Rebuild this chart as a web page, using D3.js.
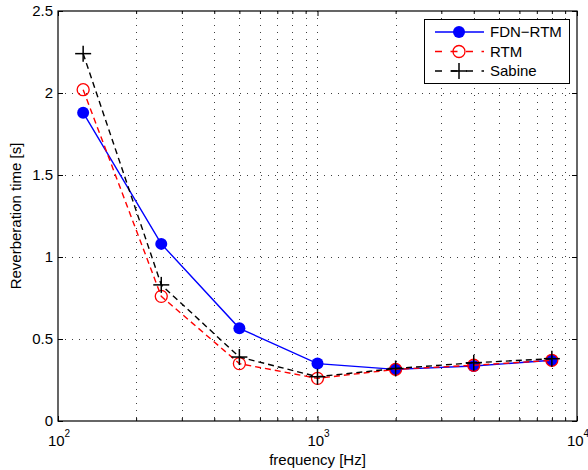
<!DOCTYPE html>
<html><head><meta charset="utf-8">
<script src="https://cdn.jsdelivr.net/npm/d3@7"></script>
<style>
body{margin:0;background:#fff;}
svg{display:block;font-family:"Liberation Sans",Arial,Helvetica,sans-serif;}
</style></head>
<body><svg id="c" width="588" height="470"></svg>
<script>
const freqs = [125, 250, 500, 1000, 2000, 4000, 8000];
const fdnRtm = [1.88, 1.08, 0.565, 0.35, 0.315, 0.335, 0.37];
const rtm    = [2.02, 0.76, 0.35, 0.26, 0.315, 0.34, 0.37];
const sabine = [2.24, 0.83, 0.39, 0.27, 0.32, 0.355, 0.38];
const yTicks = [0, 0.5, 1, 1.5, 2, 2.5];
const xMajor = [100, 1000, 10000];
const xMinor = [200,300,400,500,600,700,800,900,2000,3000,4000,5000,6000,7000,8000,9000];
const seriesNames = ["FDN\u2212RTM", "RTM", "Sabine"];

const L=58, R=577, T=11, B=421;
const svg = d3.select("#c");
const x = d3.scaleLog().domain([100,10000]).range([L,R]);
const y = d3.scaleLinear().domain([0,2.5]).range([B,T]);

// grid
const g = svg.append("g").attr("stroke","#000").attr("stroke-width",1).attr("stroke-dasharray","1,6").attr("opacity",0.75);
xMinor.concat([1000]).forEach(v=>{
  g.append("line").attr("x1",Math.round(x(v))+0.5).attr("x2",Math.round(x(v))+0.5).attr("y1",T).attr("y2",B);
});
yTicks.filter(v=>v>0&&v<2.5).forEach(v=>{
  g.append("line").attr("y1",Math.round(y(v))+0.5).attr("y2",Math.round(y(v))+0.5).attr("x1",L).attr("x2",R);
});

// axes with inward ticks
const axB = d3.axisBottom(x).tickValues(xMajor).tickSizeInner(-5).tickSizeOuter(0).tickFormat("");
const axT = d3.axisTop(x).tickValues(xMajor).tickSizeInner(-5).tickSizeOuter(0).tickFormat("");
const axBm = d3.axisBottom(x).tickValues(xMinor).tickSizeInner(-3).tickSizeOuter(0).tickFormat("");
const axTm = d3.axisTop(x).tickValues(xMinor).tickSizeInner(-3).tickSizeOuter(0).tickFormat("");
const axL = d3.axisLeft(y).tickValues(yTicks).tickSizeInner(-5).tickSizeOuter(0).tickFormat("");
const axR = d3.axisRight(y).tickValues(yTicks).tickSizeInner(-5).tickSizeOuter(0).tickFormat("");
[[axB,`0,${B}`],[axBm,`0,${B}`],[axT,`0,${T}`],[axTm,`0,${T}`],[axL,`${L},0`],[axR,`${R},0`]].forEach(([a,t])=>{
  const gg = svg.append("g").attr("transform",`translate(${t})`).call(a);
  gg.select(".domain").remove();
  gg.selectAll("line").attr("stroke","#000");
});
svg.append("rect").attr("x",L).attr("y",T).attr("width",R-L).attr("height",B-T)
  .attr("fill","none").attr("stroke","#000").attr("stroke-width",1.2);

// y tick labels
svg.append("g").selectAll("text").data(yTicks).join("text")
  .attr("x",L-5).attr("y",d=>y(d)).attr("dy","0.36em").attr("text-anchor","end")
  .attr("font-size",15).text(d=>d3.format("~g")(d));

// x tick labels 10^n
xMajor.forEach(v=>{
  const t = svg.append("text").attr("x",x(v)+1).attr("y",446).attr("text-anchor","middle").attr("font-size",15);
  t.append("tspan").text("10");
  t.append("tspan").attr("font-size",10).attr("dy",-9).text(Math.round(Math.log10(v)));
});

svg.append("text").attr("x",(L+R)/2).attr("y",465).attr("text-anchor","middle").attr("font-size",15).text("frequency [Hz]");
svg.append("text").attr("transform",`translate(21,${(T+B)/2}) rotate(-90)`).attr("text-anchor","middle").attr("font-size",15).text("Reverberation time [s]");

const line = d3.line().x((d,i)=>x(freqs[i])).y(d=>y(d));
const styles = [
  {data:fdnRtm,color:"#0000ff",dash:null},
  {data:rtm,color:"#ff0000",dash:"6,4"},
  {data:sabine,color:"#000",dash:"6,4"}
];
function marker(sel,i,color){
  if(i===0) sel.append("circle").attr("r",6).attr("fill",color);
  else if(i===1) sel.append("circle").attr("r",6).attr("fill","none").attr("stroke",color).attr("stroke-width",1.3);
  else {
    sel.append("line").attr("x1",-8).attr("x2",8).attr("stroke",color).attr("stroke-width",1.5);
    sel.append("line").attr("y1",-8).attr("y2",8).attr("stroke",color).attr("stroke-width",1.5);
  }
}
styles.forEach((s,i)=>{
  svg.append("path").datum(s.data).attr("d",line).attr("fill","none").attr("stroke",s.color)
    .attr("stroke-width",1.4).attr("stroke-dasharray",s.dash);
  s.data.forEach((v,j)=>{
    const m = svg.append("g").attr("transform",`translate(${x(freqs[j])},${y(v)})`);
    marker(m,i,s.color);
  });
});

// legend
const lg = svg.append("g");
lg.append("rect").attr("x",424.5).attr("y",19.5).attr("width",145).attr("height",64).attr("fill","#fff").attr("stroke","#000").attr("stroke-width",1);
seriesNames.forEach((n,i)=>{
  const yy = 32 + i*19.5;
  lg.append("line").attr("x1",435).attr("x2",484).attr("y1",yy).attr("y2",yy).attr("stroke",styles[i].color)
    .attr("stroke-width",1.4).attr("stroke-dasharray",styles[i].dash ? "7,8.5" : null);
  const m = lg.append("g").attr("transform",`translate(459,${yy})`);
  marker(m,i,styles[i].color);
  lg.append("text").attr("x",490).attr("y",yy).attr("dy","0.36em").attr("font-size",15).text(n);
});
</script></body></html>
